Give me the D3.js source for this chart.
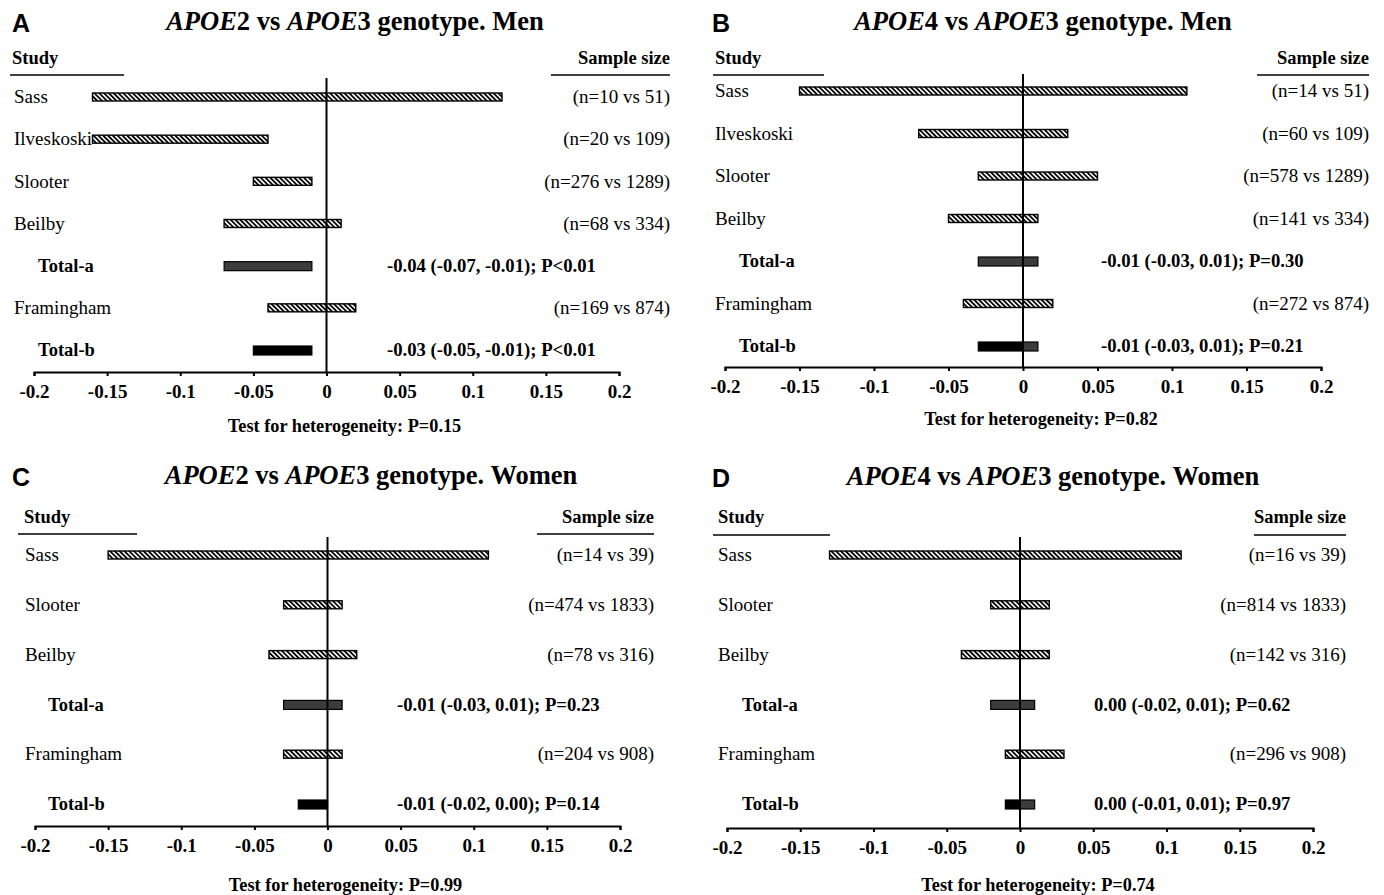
<!DOCTYPE html>
<html>
<head>
<meta charset="utf-8">
<script src="https://cdn.jsdelivr.net/npm/d3@7"></script>
<style>
  html, body { margin: 0; padding: 0; background: #fff; }
  svg { display: block; }
  text { font-family: "Liberation Serif", "Times New Roman", serif; fill: #000; }
</style>
</head>
<body>
<svg id="chart" width="1384" height="895"></svg>
<script>
// ---------------- DATA ----------------
const tickValues = [-0.2, -0.15, -0.1, -0.05, 0, 0.05, 0.1, 0.15, 0.2];
const tickLabels = ["-0.2", "-0.15", "-0.1", "-0.05", "0", "0.05", "0.1", "0.15", "0.2"];

// Panel A: APOE2 vs APOE3, Men
const studiesA = ["Sass", "Ilveskoski", "Slooter", "Beilby", "Total-a", "Framingham", "Total-b"];
const lowA  = [-0.16, -0.16, -0.05, -0.07, -0.07, -0.04, -0.05];
const highA = [ 0.12, -0.04, -0.01,  0.01, -0.01,  0.02, -0.01];
const sizesA = ["(n=10 vs 51)", "(n=20 vs 109)", "(n=276 vs 1289)", "(n=68 vs 334)", "", "(n=169 vs 874)", ""];
const estimatesA = ["", "", "", "", "-0.04 (-0.07, -0.01); P<0.01", "", "-0.03 (-0.05, -0.01); P<0.01"];
const heterogeneityA = "P=0.15";

// Panel B: APOE4 vs APOE3, Men
const studiesB = ["Sass", "Ilveskoski", "Slooter", "Beilby", "Total-a", "Framingham", "Total-b"];
const lowB  = [-0.15, -0.07, -0.03, -0.05, -0.03, -0.04, -0.03];
const highB = [ 0.11,  0.03,  0.05,  0.01,  0.01,  0.02,  0.01];
const sizesB = ["(n=14 vs 51)", "(n=60 vs 109)", "(n=578 vs 1289)", "(n=141 vs 334)", "", "(n=272 vs 874)", ""];
const estimatesB = ["", "", "", "", "-0.01 (-0.03, 0.01); P=0.30", "", "-0.01 (-0.03, 0.01); P=0.21"];
const heterogeneityB = "P=0.82";

// Panel C: APOE2 vs APOE3, Women
const studiesC = ["Sass", "Slooter", "Beilby", "Total-a", "Framingham", "Total-b"];
const lowC  = [-0.15, -0.03, -0.04, -0.03, -0.03, -0.02];
const highC = [ 0.11,  0.01,  0.02,  0.01,  0.01,  0.00];
const sizesC = ["(n=14 vs 39)", "(n=474 vs 1833)", "(n=78 vs 316)", "", "(n=204 vs 908)", ""];
const estimatesC = ["", "", "", "-0.01 (-0.03, 0.01); P=0.23", "", "-0.01 (-0.02, 0.00); P=0.14"];
const heterogeneityC = "P=0.99";

// Panel D: APOE4 vs APOE3, Women
const studiesD = ["Sass", "Slooter", "Beilby", "Total-a", "Framingham", "Total-b"];
const lowD  = [-0.13, -0.02, -0.04, -0.02, -0.01, -0.01];
const highD = [ 0.11,  0.02,  0.02,  0.01,  0.03,  0.01];
const sizesD = ["(n=16 vs 39)", "(n=814 vs 1833)", "(n=142 vs 316)", "", "(n=296 vs 908)", ""];
const estimatesD = ["", "", "", "0.00 (-0.02, 0.01); P=0.62", "", "0.00 (-0.01, 0.01); P=0.97"];
const heterogeneityD = "P=0.74";

// ---------------- LAYOUT ----------------
const panels = [
  { letter: "A", allele: "2", sex: "Men", studies: studiesA, low: lowA, high: highA, sizes: sizesA, est: estimatesA, het: heterogeneityA,
    letterX: 12, letterY: 32, titleX: 355, titleY: 30,
    headY: 64, lineY: 75, studyX: 12, studyLine: [10, 124], sizeRight: 670, sizeLine: [551, 670],
    labelX: 14, totalX: 38, estX: 387,
    xRange: [34, 619], rowRange: [97, 350], zeroTop: 78, axisY: 372, tickPad: 9, hetY: 432 },
  { letter: "B", allele: "4", sex: "Men", studies: studiesB, low: lowB, high: highB, sizes: sizesB, est: estimatesB, het: heterogeneityB,
    letterX: 712, letterY: 32, titleX: 1043, titleY: 30,
    headY: 64, lineY: 75, studyX: 715, studyLine: [713, 824], sizeRight: 1369, sizeLine: [1257, 1369],
    labelX: 715, totalX: 739, estX: 1101,
    xRange: [725, 1321], rowRange: [91, 346], zeroTop: 74, axisY: 367, tickPad: 9, hetY: 425 },
  { letter: "C", allele: "2", sex: "Women", studies: studiesC, low: lowC, high: highC, sizes: sizesC, est: estimatesC, het: heterogeneityC,
    letterX: 12, letterY: 486, titleX: 371, titleY: 484,
    headY: 523, lineY: 534, studyX: 24, studyLine: [18, 137], sizeRight: 654, sizeLine: [537, 654],
    labelX: 25, totalX: 48, estX: 397,
    xRange: [35, 620], rowRange: [555, 804], zeroTop: 537, axisY: 826, tickPad: 9, hetY: 891 },
  { letter: "D", allele: "4", sex: "Women", studies: studiesD, low: lowD, high: highD, sizes: sizesD, est: estimatesD, het: heterogeneityD,
    letterX: 712, letterY: 487, titleX: 1053, titleY: 485,
    headY: 523, lineY: 535, studyX: 718, studyLine: [713, 830], sizeRight: 1346, sizeLine: [1254, 1346],
    labelX: 718, totalX: 742, estX: 1094,
    xRange: [727, 1313], rowRange: [555, 804], zeroTop: 537, axisY: 828, tickPad: 9, hetY: 891 }
];

const FS = 19;
const svg = d3.select("#chart");

// hatch pattern
const defs = svg.append("defs");
const pat = defs.append("pattern")
  .attr("id", "hatch").attr("patternUnits", "userSpaceOnUse")
  .attr("width", 3.4).attr("height", 3.4)
  .attr("patternTransform", "rotate(-45)");
pat.append("rect").attr("width", 3.4).attr("height", 3.4).attr("fill", "#fff");
pat.append("line").attr("x1", 0.9).attr("y1", 0).attr("x2", 0.9).attr("y2", 3.4)
  .attr("stroke", "#000").attr("stroke-width", 1.8);

panels.forEach(p => {
  const g = svg.append("g");
  const x = d3.scaleLinear().domain([-0.2, 0.2]).range(p.xRange);
  const y = d3.scalePoint().domain(p.studies).range(p.rowRange);

  // panel letter
  g.append("text").attr("x", p.letterX).attr("y", p.letterY)
    .style("font-family", "'Liberation Sans', Arial, sans-serif")
    .style("font-weight", "bold").style("font-size", "25px").text(p.letter);

  // title
  const t = g.append("text").attr("x", p.titleX).attr("y", p.titleY)
    .attr("text-anchor", "middle").style("font-weight", "bold").style("font-size", "26.5px");
  t.append("tspan").style("font-style", "italic").text("APOE");
  t.append("tspan").text(p.allele + " vs ");
  t.append("tspan").style("font-style", "italic").text("APOE");
  t.append("tspan").text("3 genotype. " + p.sex);

  // headers
  g.append("text").attr("x", p.studyX).attr("y", p.headY)
    .style("font-weight", "bold").style("font-size", "18.5px").text("Study");
  g.append("line").attr("x1", p.studyLine[0]).attr("x2", p.studyLine[1])
    .attr("y1", p.lineY).attr("y2", p.lineY).attr("stroke", "#000").attr("stroke-width", 1.5);
  g.append("text").attr("x", p.sizeRight).attr("y", p.headY).attr("text-anchor", "end")
    .style("font-weight", "bold").style("font-size", "18.5px").text("Sample size");
  g.append("line").attr("x1", p.sizeLine[0]).attr("x2", p.sizeLine[1])
    .attr("y1", p.lineY).attr("y2", p.lineY).attr("stroke", "#000").attr("stroke-width", 1.5);

  const rows = p.studies.map((s, i) => ({
    name: s, lo: p.low[i], hi: p.high[i], size: p.sizes[i], est: p.est[i],
    total: s.startsWith("Total"), kind: s === "Total-a" ? "a" : (s === "Total-b" ? "b" : "s")
  }));

  // labels
  g.selectAll(".lab").data(rows).enter().append("text")
    .attr("x", d => d.total ? p.totalX : p.labelX)
    .attr("y", d => y(d.name)).attr("dy", "0.33em")
    .style("font-size", (d => d.total ? "18.5px" : FS + "px"))
    .style("font-weight", d => d.total ? "bold" : "normal")
    .text(d => d.name);

  // sample sizes
  g.selectAll(".size").data(rows.filter(d => d.size)).enter().append("text")
    .attr("x", p.sizeRight).attr("y", d => y(d.name)).attr("dy", "0.33em")
    .attr("text-anchor", "end").style("font-size", FS + "px").text(d => d.size);

  // estimates
  g.selectAll(".est").data(rows.filter(d => d.est)).enter().append("text")
    .attr("x", p.estX).attr("y", d => y(d.name)).attr("dy", "0.33em")
    .style("font-weight", "bold").style("font-size", "18.7px").text(d => d.est);

  // bars
  const H = 8;
  rows.forEach(d => {
    if (d.kind === "s") {
      g.append("rect").attr("x", x(d.lo)).attr("width", x(d.hi) - x(d.lo))
        .attr("y", y(d.name) - H / 2).attr("height", H)
        .attr("fill", "url(#hatch)").attr("stroke", "#000").attr("stroke-width", 1.4);
    } else if (d.kind === "a") {
      g.append("rect").attr("x", x(d.lo)).attr("width", x(d.hi) - x(d.lo))
        .attr("y", y(d.name) - H / 2).attr("height", H + 1)
        .attr("fill", "#3c3c3c").attr("stroke", "#000").attr("stroke-width", 1.2);
    } else {
      const negEnd = Math.min(d.hi, 0);
      g.append("rect").attr("x", x(d.lo)).attr("width", x(negEnd) - x(d.lo))
        .attr("y", y(d.name) - H / 2).attr("height", H + 1)
        .attr("fill", "#000").attr("stroke", "#000").attr("stroke-width", 1.2);
      if (d.hi > 0) {
        g.append("rect").attr("x", x(0)).attr("width", x(d.hi) - x(0))
          .attr("y", y(d.name) - H / 2).attr("height", H + 1)
          .attr("fill", "#3c3c3c").attr("stroke", "#000").attr("stroke-width", 1.2);
      }
    }
  });

  // zero line
  g.append("line").attr("x1", x(0)).attr("x2", x(0))
    .attr("y1", p.zeroTop).attr("y2", p.axisY)
    .attr("stroke", "#000").attr("stroke-width", 2);

  // axis
  const axis = d3.axisBottom(x).tickValues(tickValues)
    .tickFormat((v, i) => tickLabels[i]).tickSize(4).tickSizeOuter(4).tickPadding(p.tickPad);
  const ag = g.append("g").attr("transform", `translate(0,${p.axisY})`).call(axis);
  ag.select(".domain").attr("stroke", "#000").attr("stroke-width", 2);
  ag.selectAll(".tick line").attr("stroke", "#000").attr("stroke-width", 2);
  ag.selectAll(".tick text")
    .style("font-family", "'Liberation Serif', 'Times New Roman', serif")
    .style("font-weight", "bold").style("font-size", "19px").attr("fill", "#000");

  // heterogeneity
  g.append("text").attr("x", (p.xRange[0] + p.xRange[1]) / 2 + 18).attr("y", p.hetY)
    .attr("text-anchor", "middle").style("font-weight", "bold").style("font-size", "18.3px")
    .text("Test for heterogeneity: " + p.het);
});
</script>
</body>
</html>
